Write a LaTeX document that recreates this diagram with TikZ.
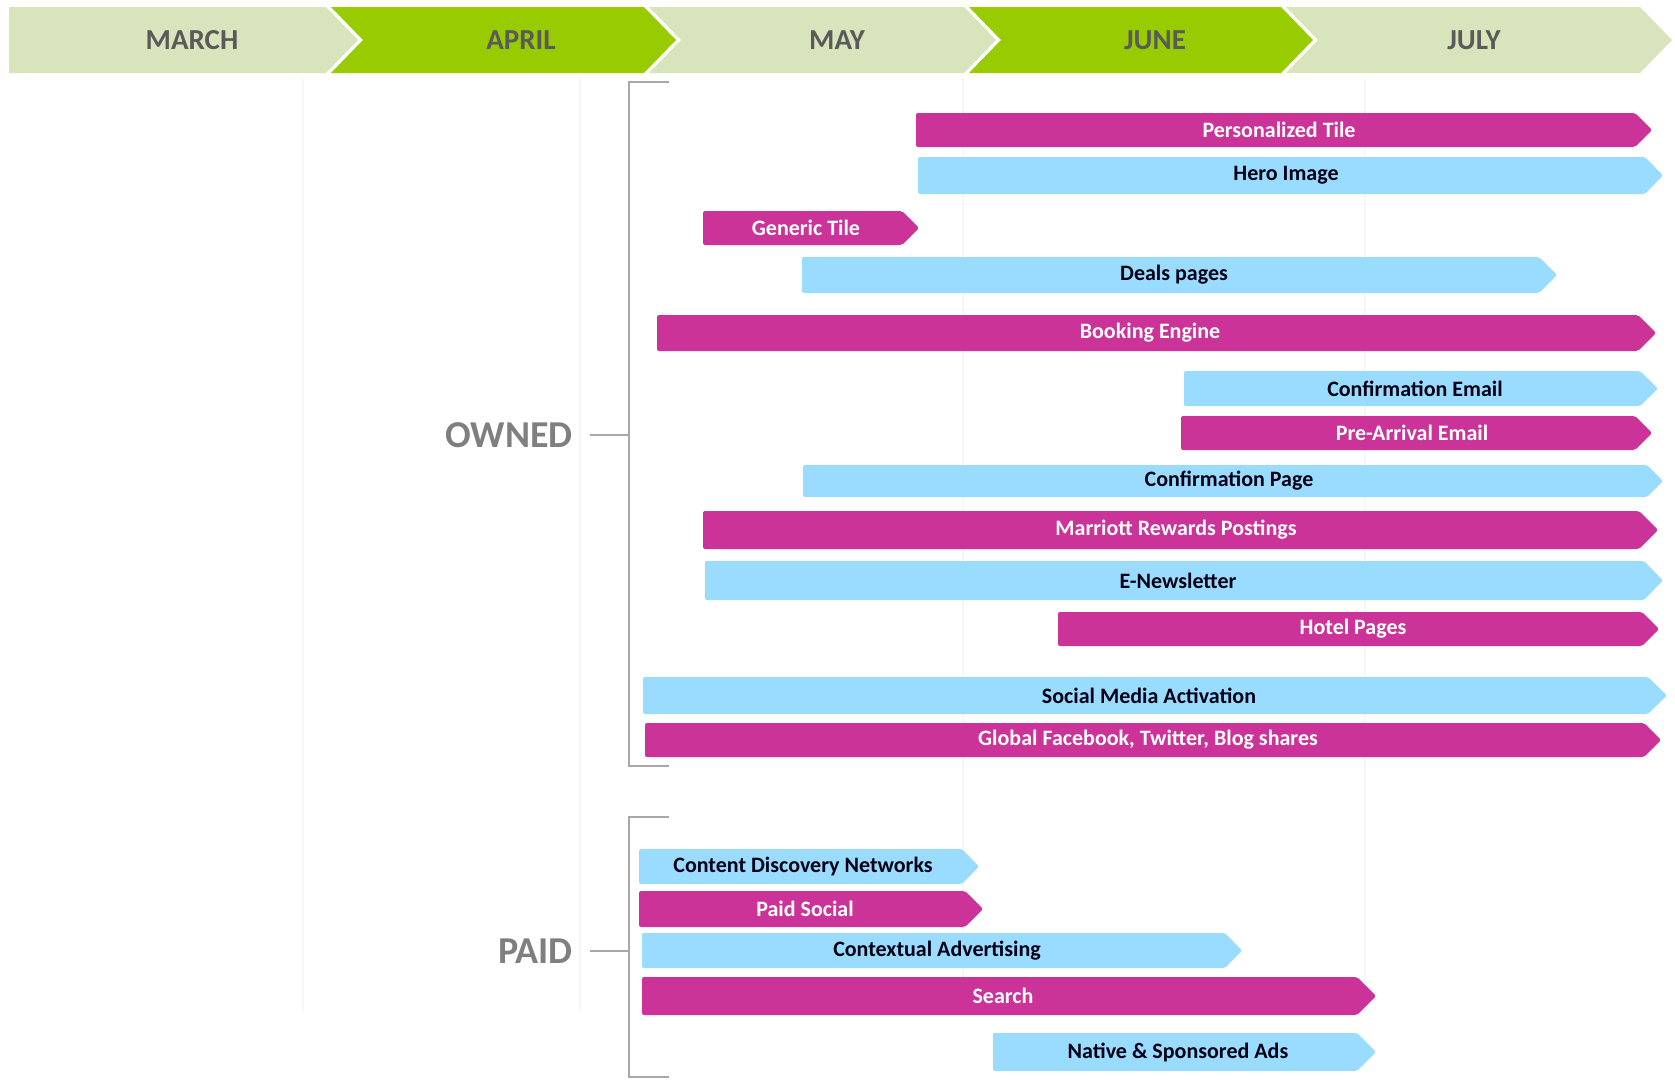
\documentclass[tikz,border=0pt]{standalone}
\usepackage{fontspec}
\setmainfont{Carlito}
\usepackage{xcolor}
\definecolor{monthlight}{HTML}{D8E4BC}
\definecolor{monthdark}{HTML}{99CC00}
\definecolor{magbar}{HTML}{CC3399}
\definecolor{bluebar}{HTML}{99DCFF}
\definecolor{monthtext}{HTML}{5A5A5A}
\definecolor{grouptext}{HTML}{7F7F7F}
\definecolor{bracketgray}{HTML}{A8A8A8}
\definecolor{gridgray}{HTML}{F7F7F7}

\begin{document}
\begin{tikzpicture}[x=1pt, y=-1pt,
  month/.style={font=\fontsize{29}{33}\selectfont\bfseries, text=monthtext},
  group/.style={font=\fontsize{38}{42}\selectfont\bfseries, text=grouptext, inner sep=0pt},
  magfill/.style={fill=magbar, rounded corners=2pt},
  bluefill/.style={fill=bluebar, rounded corners=2pt},
  maglabel/.style={font=\fontsize{22}{26}\selectfont\bfseries, text=white, inner sep=0pt},
  bluelabel/.style={font=\fontsize{22}{26}\selectfont\bfseries, text=black!92!blue, inner sep=0pt},
  bracket/.style={draw=bracketgray, line width=2.5pt},
  gridline/.style={draw=gridgray, line width=1.5pt}]

\useasboundingbox (0,0) rectangle (1675,1079);

% grid
  \draw[gridline] (303,78) -- (303,1012);
  \draw[gridline] (580,78) -- (580,1012);
  \draw[gridline] (963,78) -- (963,1012);
  \draw[gridline] (1365,78) -- (1365,1012);

% Months
  \fill[monthlight] (9,7) -- (326,7) -- (358,40) -- (326,73) -- (9,73) -- cycle;
  \fill[monthdark] (331,7) -- (644,7) -- (676,40) -- (644,73) -- (331,73) -- (363,40) -- cycle;
  \fill[monthlight] (649,7) -- (964,7) -- (996,40) -- (964,73) -- (649,73) -- (681,40) -- cycle;
  \fill[monthdark] (969,7) -- (1281,7) -- (1313,40) -- (1281,73) -- (969,73) -- (1001,40) -- cycle;
  \fill[monthlight] (1286,7) -- (1640,7) -- (1672,40) -- (1640,73) -- (1286,73) -- (1318,40) -- cycle;

  \node[month] (march) at (192,40) {MARCH};
  \node[month] (april) at (521,40) {APRIL};
  \node[month] (may) at (837,40) {MAY};
  \node[month] (june) at (1155,40) {JUNE};
  \node[month] (july) at (1474,40) {JULY};

% Owned
  \draw[bracket] (669,82) -- (629,82) -- (629,766) -- (669,766);
  \node[group, anchor=east] (owned) at (573,435) {OWNED};
  \coordinate (ownedmid) at (629,435);
  \draw[bracket] ([xshift=17pt]owned.east) -- (ownedmid);

    \fill[magfill] (916,113) -- (1635,113) -- (1652,130) -- (1635,147) -- (916,147) -- cycle;
    \node[maglabel] (ptile) at (1279,130) {Personalized Tile};

    \fill[bluefill] (918,157) -- (1645,157) -- (1663,175.5) -- (1645,194) -- (918,194) -- cycle;
    \node[bluelabel] (hero) at (1286,175.5) {Hero Image};

    \fill[magfill] (703,211) -- (902,211) -- (919,228) -- (902,245) -- (703,245) -- cycle;
    \node[maglabel] (gtile) at (806,228) {Generic Tile};

    \fill[bluefill] (802,257) -- (1539,257) -- (1557,275) -- (1539,293) -- (802,293) -- cycle;
    \node[bluelabel] (deals) at (1174,275) {Deals pages};

    \fill[magfill] (657,315) -- (1638,315) -- (1656,333) -- (1638,351) -- (657,351) -- cycle;
    \node[maglabel] (booking) at (1150,333) {Booking Engine};

    \fill[bluefill] (1184,371) -- (1640,371) -- (1658,388.5) -- (1640,406) -- (1184,406) -- cycle;
    \node[bluelabel] (cemail) at (1415,388.5) {Confirmation Email};

    \fill[magfill] (1181,416) -- (1635,416) -- (1652,433) -- (1635,450) -- (1181,450) -- cycle;
    \node[maglabel] (prearrival) at (1412,433) {Pre-Arrival Email};

    \fill[bluefill] (803,465) -- (1647,465) -- (1663,481) -- (1647,497) -- (803,497) -- cycle;
    \node[bluelabel] (cpage) at (1229,481) {Confirmation Page};

    \fill[magfill] (703,511) -- (1639,511) -- (1658,530) -- (1639,549) -- (703,549) -- cycle;
    \node[maglabel] (rewards) at (1176,530) {Marriott Rewards Postings};

    \fill[bluefill] (705,561) -- (1644,561) -- (1663,580.5) -- (1644,600) -- (705,600) -- cycle;
    \node[bluelabel] (enews) at (1178,580.5) {E-Newsletter};

    \fill[magfill] (1058,612) -- (1642,612) -- (1659,629) -- (1642,646) -- (1058,646) -- cycle;
    \node[maglabel] (hotel) at (1353,629) {Hotel Pages};

    \fill[bluefill] (643,677) -- (1648,677) -- (1667,695.5) -- (1648,714) -- (643,714) -- cycle;
    \node[bluelabel] (social) at (1149,695.5) {Social Media Activation};

    \fill[magfill] (645,723) -- (1644,723) -- (1661,740) -- (1644,757) -- (645,757) -- cycle;
    \node[maglabel] (shares) at (1148,740) {Global Facebook, Twitter, Blog shares};

% Paid
  \draw[bracket] (669,817) -- (629,817) -- (629,1077) -- (669,1077);
  \node[group, anchor=east] (paid) at (573,951) {PAID};
  \coordinate (paidmid) at (629,951);
  \draw[bracket] ([xshift=17pt]paid.east) -- (paidmid);

    \fill[bluefill] (639,849) -- (962,849) -- (979,866.5) -- (962,884) -- (639,884) -- cycle;
    \node[bluelabel] (cdn) at (803,866.5) {Content Discovery Networks};

    \fill[magfill] (639,891) -- (965,891) -- (983,909) -- (965,927) -- (639,927) -- cycle;
    \node[maglabel] (psocial) at (805,909) {Paid Social};

    \fill[bluefill] (642,933) -- (1225,933) -- (1242,950.5) -- (1225,968) -- (642,968) -- cycle;
    \node[bluelabel] (context) at (937,950.5) {Contextual Advertising};

    \fill[magfill] (642,977) -- (1357,977) -- (1376,996) -- (1357,1015) -- (642,1015) -- cycle;
    \node[maglabel] (search) at (1003,996) {Search};

    \fill[bluefill] (993,1033) -- (1357,1033) -- (1376,1052) -- (1357,1071) -- (993,1071) -- cycle;
    \node[bluelabel] (native) at (1178,1052) {Native \& Sponsored Ads};

\end{tikzpicture}
\end{document}
